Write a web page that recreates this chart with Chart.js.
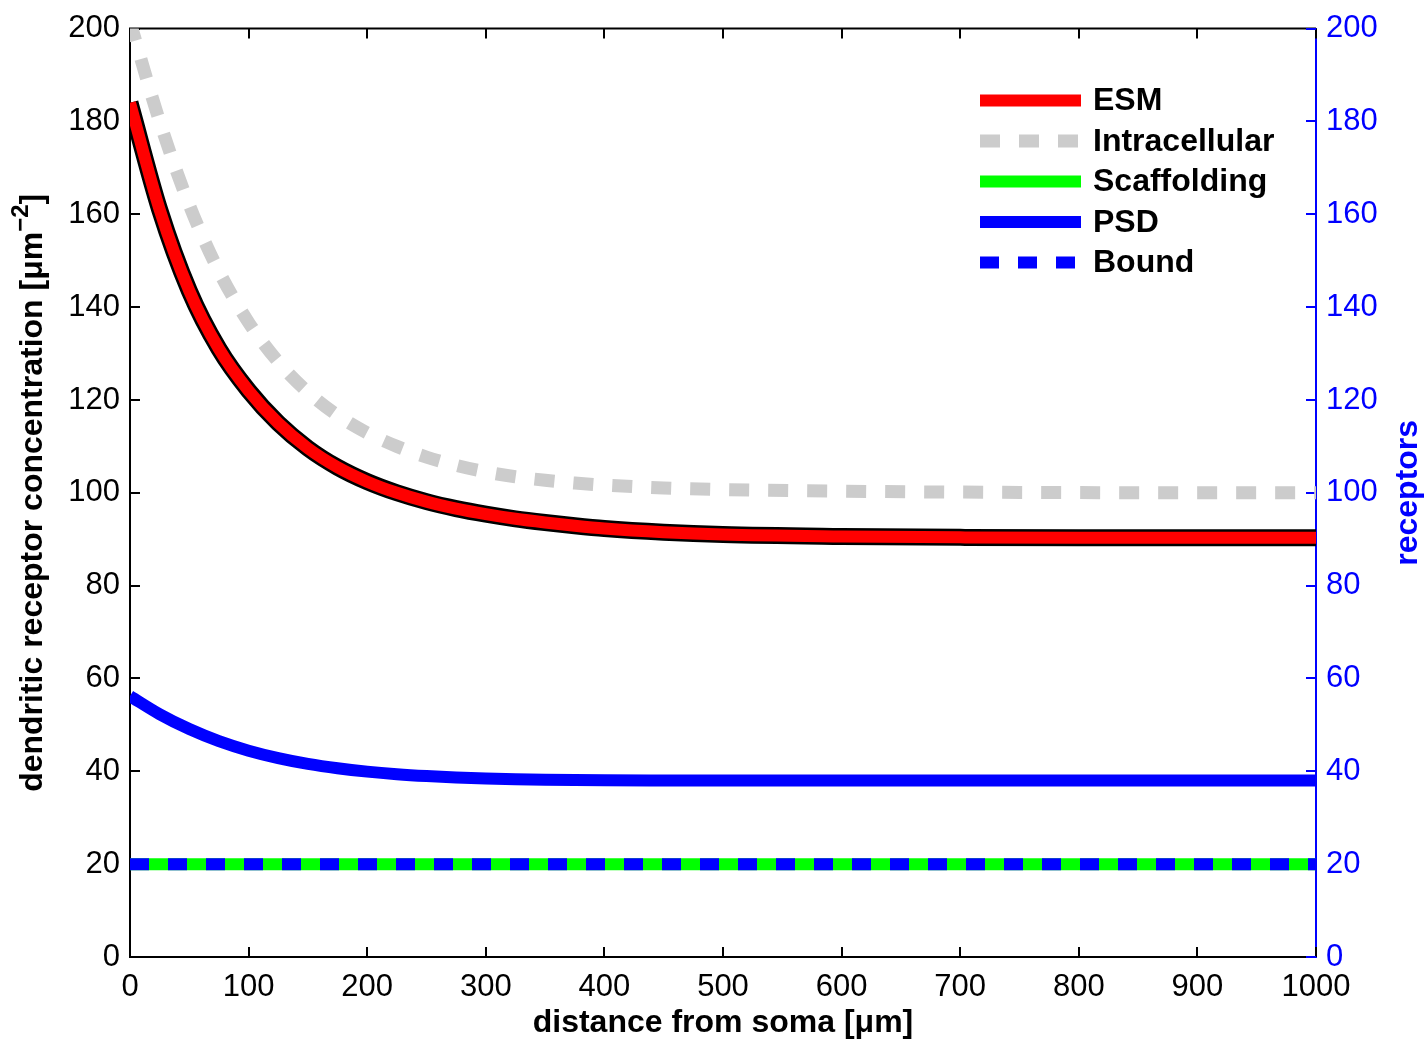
<!DOCTYPE html>
<html>
<head>
<meta charset="utf-8">
<title>Receptor concentration along the dendrite</title>
<script src="https://cdn.jsdelivr.net/npm/chart.js@4.4.0/dist/chart.umd.min.js"></script>
<style>
  body { margin: 0; background: #fff; }
  canvas { display: block; }
</style>
</head>
<body>
<canvas id="chart" width="1425" height="1045"></canvas>
<script>
// distance from soma (um)
const distance = [0, 25, 50, 75, 100, 125, 150, 175, 200, 225, 250, 275, 300, 325, 350, 375, 400, 450, 500, 600, 700, 800, 900, 1000];

// receptor concentrations per compartment
const esm = [184, 161, 143.5, 131, 122, 115, 109.6, 105.5, 102.4, 100, 98.1, 96.6, 95.4, 94.4, 93.6, 92.9, 92.3, 91.5, 91, 90.6, 90.4, 90.3, 90.3, 90.3];
const intracellular = [201.5, 180, 162, 147.7, 136.7, 128.2, 121.7, 116.7, 112.9, 110, 107.7, 105.9, 104.5, 103.45, 102.7, 102.1, 101.65, 101.05, 100.7, 100.35, 100.15, 100.05, 100, 100];
const scaffolding = [20, 20, 20, 20, 20, 20, 20, 20, 20, 20, 20, 20, 20, 20, 20, 20, 20, 20, 20, 20, 20, 20, 20, 20];
const psd = [56.2, 52.3, 49.1, 46.5, 44.45, 42.85, 41.6, 40.65, 39.93, 39.39, 38.99, 38.69, 38.47, 38.31, 38.2, 38.12, 38.06, 38.02, 38, 38, 38, 38, 38, 38];
const bound = [20, 20, 20, 20, 20, 20, 20, 20, 20, 20, 20, 20, 20, 20, 20, 20, 20, 20, 20, 20, 20, 20, 20, 20];

const xTicks = [0, 100, 200, 300, 400, 500, 600, 700, 800, 900, 1000];
const yTicks = [0, 20, 40, 60, 80, 100, 120, 140, 160, 180, 200];

const FONT = '"Liberation Sans", Arial, Helvetica, sans-serif';
const BLUE = '#0000ff';

const pts = ys => ys.map((y, i) => ({ x: distance[i], y: y }));

const lineDefaults = {
    fill: false,
    pointRadius: 0,
    cubicInterpolationMode: 'monotone',
    borderCapStyle: 'butt',
    borderJoinStyle: 'round',
    clip: 0
};

// inward tick marks on all four sides, drawn under the curves
const tickMarks = {
    id: 'tickMarks',
    beforeDatasetsDraw(chart) {
        const { ctx, chartArea: a, scales } = chart;
        const len = 10;
        ctx.save();
        ctx.lineWidth = 2;
        ctx.strokeStyle = '#000';
        ctx.beginPath();
        ctx.moveTo(a.left - 1, a.top);
        ctx.lineTo(a.right, a.top);
        xTicks.forEach(v => {
            const px = Math.round(scales.x.getPixelForValue(v));
            ctx.moveTo(px, a.bottom);
            ctx.lineTo(px, a.bottom - len);
            ctx.moveTo(px, a.top);
            ctx.lineTo(px, a.top + len);
        });
        yTicks.forEach(v => {
            const py = Math.round(scales.y.getPixelForValue(v));
            ctx.moveTo(a.left, py);
            ctx.lineTo(a.left + len, py);
        });
        ctx.stroke();
        ctx.strokeStyle = BLUE;
        ctx.beginPath();
        yTicks.forEach(v => {
            const py = Math.round(scales.y2.getPixelForValue(v));
            ctx.moveTo(a.right, py);
            ctx.lineTo(a.right - len, py);
        });
        ctx.stroke();
        ctx.restore();
    }
};

// y titles (left one has a superscript) and the line legend
const overlay = {
    id: 'overlay',
    afterDraw(chart) {
        const { ctx, chartArea: a } = chart;
        const midY = (a.top + a.bottom) / 2;
        const big = 'bold 32px ' + FONT;
        const small = 'bold 24px ' + FONT;
        ctx.save();

        // left title
        const main = 'dendritic receptor concentration [\u03bcm';
        const sup = '\u22122';
        const tail = ']';
        ctx.font = big;
        const wMain = ctx.measureText(main).width;
        const wTail = ctx.measureText(tail).width;
        ctx.font = small;
        const wSup = ctx.measureText(sup).width;
        const total = wMain + wSup + wTail;
        ctx.translate(33, midY);
        ctx.rotate(-Math.PI / 2);
        ctx.fillStyle = '#000';
        ctx.textBaseline = 'middle';
        ctx.textAlign = 'left';
        const x0 = -total / 2;
        ctx.font = big;
        ctx.fillText(main, x0, 0);
        ctx.font = small;
        ctx.fillText(sup, x0 + wMain, -12);
        ctx.font = big;
        ctx.fillText(tail, x0 + wMain + wSup, 0);
        ctx.setTransform(1, 0, 0, 1, 0, 0);

        // right title
        ctx.translate(1408, midY);
        ctx.rotate(-Math.PI / 2);
        ctx.fillStyle = BLUE;
        ctx.textAlign = 'center';
        ctx.font = big;
        ctx.fillText('receptors', 0, 0);
        ctx.setTransform(1, 0, 0, 1, 0, 0);

        // legend
        const rows = chart.data.datasets.filter(d => !d.noLegend);
        rows.forEach((d, i) => {
            const y = 100.5 + i * 40.5;
            ctx.beginPath();
            ctx.lineWidth = d.legendWidth || 12;
            ctx.strokeStyle = d.borderColor;
            ctx.lineCap = 'butt';
            ctx.setLineDash(d.borderDash || []);
            ctx.moveTo(980, y);
            ctx.lineTo(1081, y);
            ctx.stroke();
            ctx.setLineDash([]);
            ctx.fillStyle = '#000';
            ctx.textAlign = 'left';
            ctx.textBaseline = 'middle';
            ctx.font = big;
            ctx.fillText(d.label, 1093, y + 1);
        });
        ctx.restore();
    }
};

const plain = v => String(v);

const ctx = document.getElementById('chart').getContext('2d');

new Chart(ctx, {
    type: 'line',
    data: {
        datasets: [
            { ...lineDefaults, label: 'ESM', data: pts(esm), borderColor: '#ff0000', borderWidth: 12, order: 4 },
            { ...lineDefaults, label: 'Intracellular', data: pts(intracellular), borderColor: '#cccccc', borderWidth: 13, borderDash: [20, 19], legendWidth: 13, order: 3 },
            { ...lineDefaults, label: 'Scaffolding', data: pts(scaffolding), borderColor: '#00ff00', borderWidth: 12, order: 2 },
            { ...lineDefaults, label: 'PSD', data: pts(psd), borderColor: BLUE, borderWidth: 12, order: 1 },
            { ...lineDefaults, label: 'Bound', data: pts(bound), borderColor: BLUE, borderWidth: 12, borderDash: [19, 19], order: 0 },
            // black rim under the ESM curve
            { ...lineDefaults, label: 'ESM rim', data: pts(esm), borderColor: '#000000', borderWidth: 17, noLegend: true, order: 9 }
        ]
    },
    options: {
        responsive: false,
        animation: false,
        events: [],
        layout: { padding: { top: 27, left: 0, right: 0, bottom: 0 } },
        plugins: {
            legend: { display: false },
            tooltip: { enabled: false }
        },
        scales: {
            x: {
                type: 'linear',
                position: 'bottom',
                min: 0,
                max: 1000,
                afterFit: s => { s.height = 88; },
                afterBuildTicks: s => { s.ticks = xTicks.map(v => ({ value: v })); },
                grid: { display: false, drawTicks: false },
                border: { display: true, color: '#000', width: 2 },
                ticks: { color: '#000', padding: 12, maxRotation: 0, callback: plain, font: { family: FONT, size: 31 } },
                title: {
                    display: true,
                    text: 'distance from soma [\u03bcm]',
                    color: '#000',
                    padding: { top: 0, bottom: 3 },
                    font: { family: FONT, size: 32, weight: 'bold' }
                }
            },
            y: {
                position: 'left',
                min: 0,
                max: 200,
                afterFit: s => { s.width = 130; },
                afterBuildTicks: s => { s.ticks = yTicks.map(v => ({ value: v })); },
                grid: { display: false, drawTicks: false },
                border: { display: true, color: '#000', width: 2 },
                ticks: { color: '#000', padding: 10, callback: plain, font: { family: FONT, size: 31 } }
            },
            y2: {
                position: 'right',
                min: 0,
                max: 200,
                afterFit: s => { s.width = 109; },
                afterBuildTicks: s => { s.ticks = yTicks.map(v => ({ value: v })); },
                grid: { display: false, drawTicks: false },
                border: { display: true, color: BLUE, width: 2 },
                ticks: { color: BLUE, padding: 10, callback: plain, font: { family: FONT, size: 31 } }
            }
        }
    },
    plugins: [tickMarks, overlay]
});
</script>
</body>
</html>
